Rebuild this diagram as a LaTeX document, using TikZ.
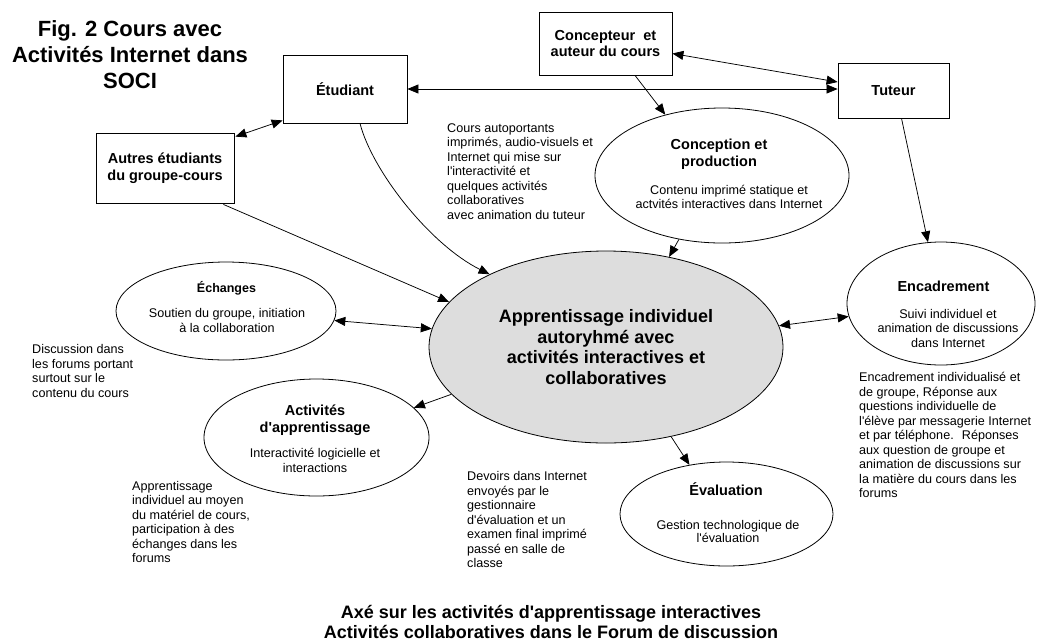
\documentclass[tikz,border=0pt]{standalone}
\usepackage{fontspec}
\setmainfont{Liberation Sans}[Ligatures=TeXOff]
\usetikzlibrary{arrows.meta,shapes.geometric,calc}
\definecolor{coregray}{RGB}{221,221,221}
\newcommand\fsz[2]{\fontsize{#1pt}{#2pt}\selectfont}

\begin{document}
\begin{tikzpicture}[x=1pt,y=-1pt,
  box/.style={draw, line width=0.8pt, fill=white, inner sep=0pt, align=center, font=\bfseries\fsz{14.5}{16.7}},
  bubble/.style={draw, ellipse, line width=0.8pt, inner sep=0pt},
  head/.style={inner sep=0pt, align=center, font=\bfseries\fsz{14.5}{17}},
  sub/.style={inner sep=0pt, align=center, font=\fsz{12.6}{14.5}},
  note/.style={inner sep=0pt, align=left, anchor=west, font=\fsz{12.6}{14.5}},
  link/.style={line width=0.75pt, -{Triangle[length=11pt,width=9pt]}},
  both/.style={line width=0.75pt, {Triangle[length=11pt,width=9pt]}-{Triangle[length=11pt,width=9pt]}},
]
\useasboundingbox[fill=white] (0,0) rectangle (1039,641);

% title and footer
\node[inner sep=0pt, align=center, font=\bfseries\fsz{22}{26}] (title) at (130,54.3)
  {Fig. 2 Cours avec\\Activités Internet dans\\SOCI};
\node[inner sep=0pt, align=center, font=\bfseries\fsz{18}{20}] (foot) at (551,622)
  {Axé sur les activités d'apprentissage interactives\\Activités collaboratives dans le Forum de discussion};

% actors
\node[box, minimum width=124pt, minimum height=68pt] (etu) at (345,89) {Étudiant};
\node[box, minimum width=138pt, minimum height=70pt] (aut) at (165,168) {Autres étudiants\\du groupe-cours};
\node[box, minimum width=133pt, minimum height=63pt] (con) at (605.5,43.5) {Concepteur~ et\\auteur du cours};
\node[box, minimum width=111pt, minimum height=55pt] (tut) at (893.5,90.5) {Tuteur};

% central learning process
\node[bubble, fill=coregray, minimum width=354pt, minimum height=192pt, align=center,
      font=\bfseries\fsz{18}{20.7}] (cen) at (606,347)
  {Apprentissage individuel\\autoryhmé avec\\activités interactives et\\collaboratives};

% surrounding functions
\node[bubble, minimum width=254pt, minimum height=135pt] (conc) at (722,175.5) {};
\node[bubble, minimum width=188pt, minimum height=123pt] (enc) at (941,303.5) {};
\node[bubble, minimum width=220pt, minimum height=98pt] (ech) at (226,311) {};
\node[bubble, minimum width=225pt, minimum height=117pt] (act) at (316.5,437.5) {};
\node[bubble, minimum width=213pt, minimum height=104pt] (eva) at (726.5,514) {};

\node[head] (concT) at (719,154.5) {Conception et\\production};
\node[sub] (concS) at (729,197) {Contenu imprimé statique et\\actvités interactives dans Internet};
\node[head] (encT) at (943.5,286) {Encadrement};
\node[sub] (encS) at (948,328) {Suivi individuel et\\animation de discussions\\dans Internet};
\node[head, font=\bfseries\fsz{12.5}{14.4}] (echT) at (226.5,288) {Échanges};
\node[sub] (echS) at (227,320.5) {Soutien du groupe, initiation\\à la collaboration};
\node[head] (actT) at (315,420.5) {Activités\\d'apprentissage};
\node[sub] (actS) at (315,460.5) {Interactivité logicielle et\\interactions};
\node[head] (evaT) at (726,489) {Évaluation};
\node[sub, font=\fsz{12.6}{13.5}] (evaS) at (728,531.5) {Gestion technologique de\\l'évaluation};

% side notes
\node[note] (n1) at (447,171.5) {Cours autoportants\\imprimés, audio-visuels et\\Internet qui mise sur\\l'interactivité et\\quelques activités\\collaboratives\\avec animation du tuteur};
\node[note] (n2) at (32,371) {Discussion dans\\les forums portant\\surtout sur le\\contenu du cours};
\node[note] (n3) at (132,522) {Apprentissage\\individuel au moyen\\du matériel de cours,\\participation à des\\échanges dans les\\forums};
\node[note] (n4) at (467,519.5) {Devoirs dans Internet\\envoyés par le\\gestionnaire\\d'évaluation et un\\examen final imprimé\\passé en salle de\\classe};
\node[note] (n5) at (859,435) {Encadrement individualisé et\\de groupe, Réponse aux\\questions individuelle de\\l'élève par messagerie Internet\\et par téléphone.~ Réponses\\aux question de groupe et\\animation de discussions sur\\la matière du cours dans les\\forums};

% connectors
\draw[both] ($(aut.north east)+(1,4)$) -- ($(etu.south west)+(0,-3)$);
\draw[both] (etu.east) -- (etu.east -| tut.west);
\draw[both] ($(con.east)+(0,10)$) -- ($(tut.west)+(0,-8.5)$);
\draw[link] ($(con.south)+(29.5,0)$) -- (conc.133);
\draw[link] (conc.236) -- (cen.55);
\draw[link] ($(tut.south)+(8,0)$) -- (enc.102);
\draw[both] (enc.188) -- (cen.7);
\draw[link] ($(etu.south)+(15,0)$) .. controls +(12,47) and +(-60,-30) .. (cen.148);
\draw[link] ($(aut.south east)+(-11,1)$) -- (cen.164);
\draw[both] (ech.355) -- (cen.174);
\draw[link] (cen.197) -- (act.17);
\draw[link] (cen.306) -- (eva.127);
\end{tikzpicture}
\end{document}
